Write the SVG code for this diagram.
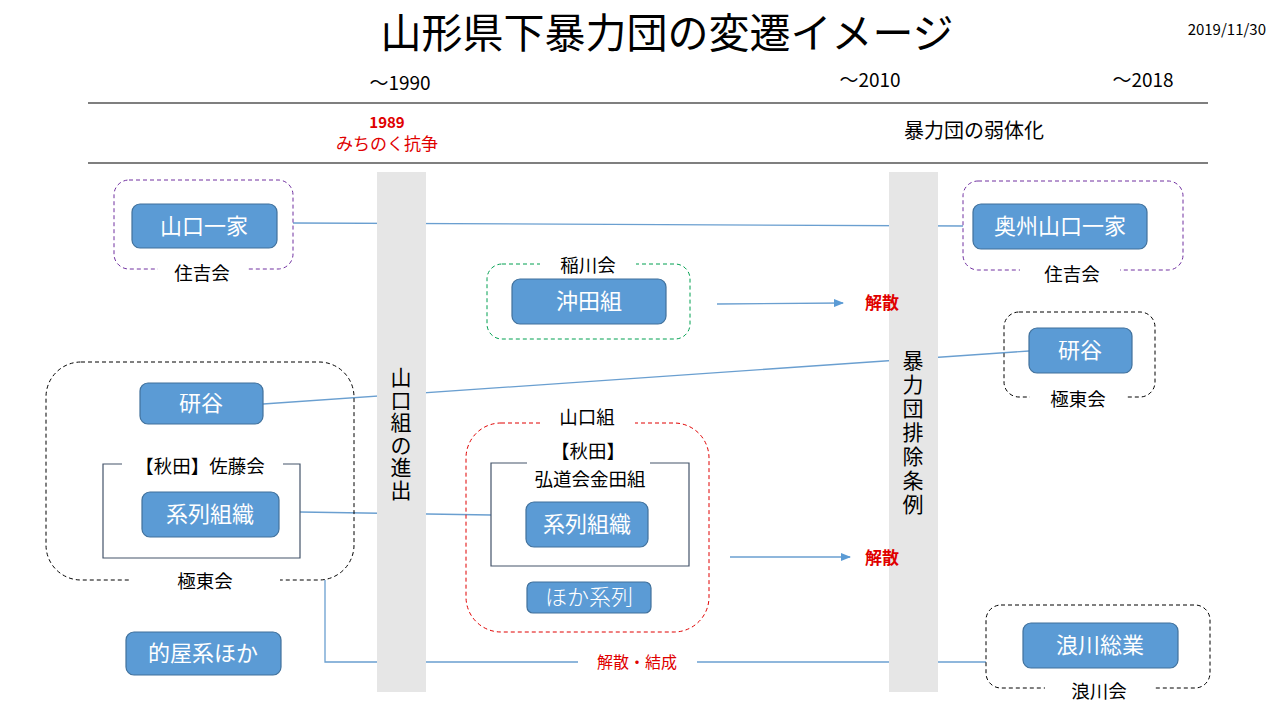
<svg xmlns="http://www.w3.org/2000/svg" width="1280" height="720" viewBox="0 0 1280 720">
<defs>
<style>
text{font-family:"Noto Sans CJK JP","Noto Sans",sans-serif;}
.box{fill:#5b9bd5;stroke:#41719c;stroke-width:1.2}
.bt{fill:#fff;font-size:22px;text-anchor:middle}
.lbl{fill:#000;font-size:18.5px;text-anchor:middle}
.red{fill:#e00000;text-anchor:middle}
.con{stroke:#6a9fd0;stroke-width:1.3;fill:none}
.bar{fill:#e6e6e6}
.vt{font-size:21px;fill:#000;text-anchor:middle}
</style>
<marker id="ah" markerWidth="10" markerHeight="8" refX="9" refY="4" orient="auto" markerUnits="userSpaceOnUse">
<path d="M0,0 L10,4 L0,8 z" fill="#5b9bd5"/>
</marker>
</defs>
<rect width="1280" height="720" fill="#fff"/>
<text x="667" y="48" font-size="41" text-anchor="middle">山形県下暴力団の変遷イメージ</text>
<text x="1266" y="35" font-size="15" text-anchor="end" font-family="Liberation Sans,sans-serif">2019/11/30</text>
<text x="400" y="90" font-size="19" text-anchor="middle">～1990</text>
<text x="870" y="87" font-size="19" text-anchor="middle">～2010</text>
<text x="1143" y="87" font-size="19" text-anchor="middle">～2018</text>
<line x1="88" y1="103" x2="1208" y2="103" stroke="#000" stroke-width="1.2"/>
<line x1="88" y1="163" x2="1208" y2="163" stroke="#000" stroke-width="1.2"/>
<text x="387" y="128" font-size="15" font-weight="bold" class="red">1989</text>
<text x="387" y="150" font-size="17" class="red">みちのく抗争</text>
<text x="974" y="138" font-size="20" text-anchor="middle">暴力団の弱体化</text>

<g id="connectors">
<line class="con" x1="293" y1="223" x2="963" y2="226"/>
<line class="con" x1="263" y1="404" x2="1029" y2="351"/>
<line class="con" x1="300" y1="512" x2="491" y2="515"/>
<line class="con" x1="717" y1="304" x2="843" y2="303" marker-end="url(#ah)"/>
<line class="con" x1="730" y1="557" x2="850" y2="557" marker-end="url(#ah)"/>
<polyline class="con" points="325,580 325,662 578,662"/>
<line class="con" x1="697" y1="662" x2="986" y2="662"/>
<text x="637" y="668" font-size="16" class="red">解散・結成</text>
</g>

<g id="bar1"><rect class="bar" x="377" y="172" width="49" height="520"/>
<text class="vt"><tspan x="401" y="385">山</tspan><tspan x="401" y="407.5">口</tspan><tspan x="401" y="430">組</tspan><tspan x="401" y="452.5">の</tspan><tspan x="401" y="475">進</tspan><tspan x="401" y="497.5">出</tspan></text></g>
<g id="bar2"><rect class="bar" x="889" y="172" width="49" height="520"/>
<text class="vt" font-size="22"><tspan x="913" y="368">暴</tspan><tspan x="913" y="392">力</tspan><tspan x="913" y="416">団</tspan><tspan x="913" y="440">排</tspan><tspan x="913" y="464">除</tspan><tspan x="913" y="488">条</tspan><tspan x="913" y="512">例</tspan></text></g>

<g id="sumiyoshi1"><rect x="114" y="180" width="179" height="89" rx="15" fill="none" stroke="#7030a0" stroke-dasharray="4,3"/>
<rect x="158" y="260" width="90" height="20" fill="#fff"/><text class="lbl" x="202" y="280">住吉会</text></g>
<g id="yamaguchi-ikka"><rect class="box" x="132" y="204" width="145" height="44" rx="8"/><text class="bt" x="204" y="234">山口一家</text></g>

<g id="inagawa"><rect x="487" y="264" width="203" height="75" rx="15" fill="none" stroke="#00a050" stroke-dasharray="4,3"/>
<rect x="540" y="255" width="96" height="20" fill="#fff"/><text class="lbl" x="588" y="272">稲川会</text></g>
<g id="okita"><rect class="box" x="512" y="279" width="154" height="45" rx="8"/><text class="bt" x="589" y="309">沖田組</text></g>
<text id="kaisan1" x="882" y="309" font-size="17" font-weight="bold" class="red">解散</text>

<g id="kyokuto1"><rect x="46" y="362" width="308" height="218" rx="35" fill="none" stroke="#000" stroke-dasharray="4,3"/>
<rect x="130" y="570" width="150" height="20" fill="#fff"/><text class="lbl" x="205" y="588">極東会</text></g>
<g id="togiya1"><rect class="box" x="140" y="383" width="123" height="41" rx="8"/><text class="bt" x="201" y="411">研谷</text></g>
<g id="sato"><polyline points="122,464 103,464 103,558 300,558 300,464 283,464" fill="none" stroke="#44546a" stroke-width="1.2"/>
<text class="lbl" x="200" y="473" font-size="18">【秋田】佐藤会</text></g>
<g id="keiretsu1"><rect class="box" x="142" y="492" width="137" height="45" rx="8"/><text class="bt" x="210" y="522">系列組織</text></g>

<g id="yamaguchigumi"><rect x="466" y="423" width="243" height="209" rx="35" fill="none" stroke="#e00000" stroke-dasharray="4,3"/>
<rect x="540" y="410" width="95" height="22" fill="#fff"/><text class="lbl" x="587" y="424" font-size="20">山口組</text></g>
<g id="kanedagumi"><polyline points="527,463 491,463 491,566 689,566 689,463 650,463" fill="none" stroke="#44546a" stroke-width="1.2"/>
<text class="lbl" x="588" y="458" font-size="18">【秋田】</text><text class="lbl" x="590" y="486" font-size="18">弘道会金田組</text></g>
<g id="keiretsu2"><rect class="box" x="526" y="502" width="122" height="45" rx="8"/><text class="bt" x="587" y="532">系列組織</text></g>
<g id="hoka"><rect class="box" x="527" y="582" width="124" height="31" rx="6"/><text class="bt" x="589" y="605" font-size="19" font-weight="300">ほか系列</text></g>
<text id="kaisan2" x="882" y="564" font-size="17" font-weight="bold" class="red">解散</text>

<g id="tekiya"><rect class="box" x="126" y="632" width="155" height="43" rx="8"/><text class="bt" x="203" y="661">的屋系ほか</text></g>

<g id="sumiyoshi2"><rect x="963" y="181" width="220" height="89" rx="15" fill="none" stroke="#7030a0" stroke-dasharray="4,3"/>
<rect x="1020" y="262" width="100" height="20" fill="#fff"/><text class="lbl" x="1072" y="281">住吉会</text></g>
<g id="oshu"><rect class="box" x="973" y="204" width="174" height="45" rx="8"/><text class="bt" x="1060" y="234">奥州山口一家</text></g>

<g id="kyokuto2"><rect x="1004" y="312" width="151" height="85" rx="15" fill="none" stroke="#000" stroke-dasharray="4,3"/>
<rect x="1030" y="388" width="95" height="20" fill="#fff"/><text class="lbl" x="1078" y="406">極東会</text></g>
<g id="togiya2"><rect class="box" x="1029" y="328" width="103" height="45" rx="8"/><text class="bt" x="1080" y="358">研谷</text></g>

<g id="namikawa"><rect x="986" y="605" width="224" height="83" rx="15" fill="none" stroke="#000" stroke-dasharray="4,3"/>
<rect x="1045" y="678" width="110" height="22" fill="#fff"/><text class="lbl" x="1099" y="698">浪川会</text></g>
<g id="namikawa-sogyo"><rect class="box" x="1023" y="623" width="155" height="45" rx="8"/><text class="bt" x="1100" y="653">浪川総業</text></g>
</svg>
